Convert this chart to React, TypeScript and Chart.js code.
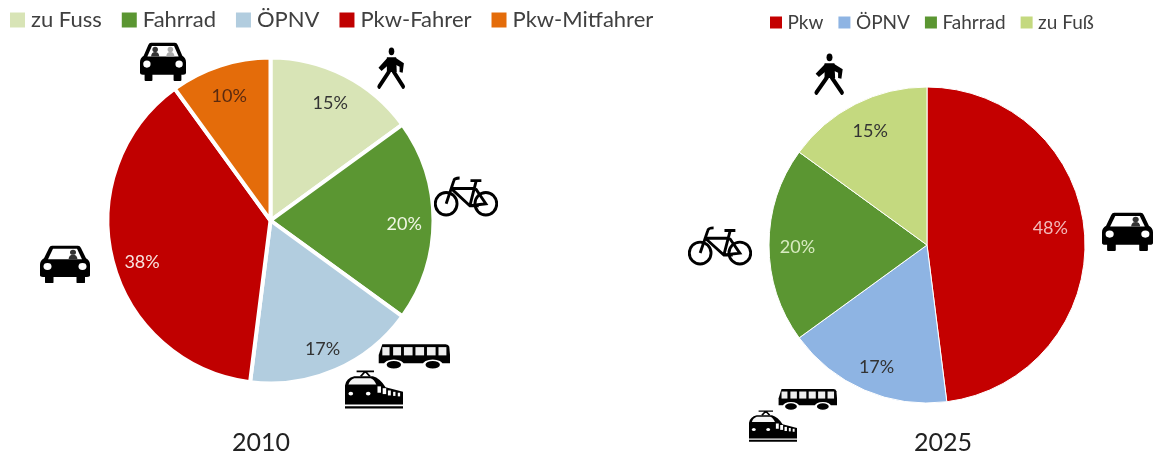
import React, { useEffect, useRef } from "react";
import { Chart, registerables } from "chart.js";

Chart.register(...registerables);

const labels2010 = ["zu Fuss", "Fahrrad", "ÖPNV", "Pkw-Fahrer", "Pkw-Mitfahrer"];
const values2010 = [15, 20, 17, 38, 10];
const colors2010 = ["#D8E4B6", "#5B9632", "#B2CDDF", "#C00000", "#E46C0A"];
const textColors2010 = ["#333333", "#F0F6E4", "#333333", "#F8E4E0", "#5A2A10"];
const labelShift2010 = [[-1, 2], [0, 4], [-1, 6], [1, 8], [0, 3]];

const labels2025 = ["Pkw", "ÖPNV", "Fahrrad", "zu Fuß"];
const values2025 = [48, 17, 20, 15];
const colors2025 = ["#C40000", "#8EB4E3", "#5B9632", "#C4D97F"];
const textColors2025 = ["#F2B8B8", "#333333", "#D8EBC0", "#333333"];
const labelShift2025 = [[-6, -9], [1, 3], [0, 2], [2, 2]];

const FONT = "Lato, Carlito, Calibri, sans-serif";

type Cfg = {
  labels: string[]; values: number[]; colors: string[]; textColors: string[]; shifts: number[][]; year: string;
  left: number; top: number; width: number; height: number;
  cx: number; cy: number; radius: number; border: number;
  legendSize: number; legendPadding: number; boxCore: number; boxStroke: number;
  yearX: number; yearY: number;
};

function PieChart({ c }: { c: Cfg }) {
  const ref = useRef<HTMLCanvasElement>(null);
  useEffect(() => {
    const place = {
      id: "place",
      afterLayout(chart: any) {
        const half = c.radius + 8;
        const x = c.cx - c.left, y = c.cy - c.top;
        Object.assign(chart.chartArea, {
          left: x - half, right: x + half, top: y - half, bottom: y + half,
          width: half * 2, height: half * 2,
        });
      },
      afterDatasetsDraw(chart: any) {
        const ctx = chart.ctx;
        ctx.save();
        ctx.textAlign = "center";
        ctx.textBaseline = "middle";
        ctx.font = `18px ${FONT}`;
        chart.getDatasetMeta(0).data.forEach((arc: any, i: number) => {
          const mid = (arc.startAngle + arc.endAngle) / 2;
          const r = c.radius * 0.82;
          ctx.fillStyle = c.textColors[i];
          ctx.fillText(
            `${c.values[i]}%`,
            arc.x + Math.cos(mid) * r + c.shifts[i][0],
            arc.y + Math.sin(mid) * r + c.shifts[i][1],
          );
        });
        ctx.fillStyle = "#222222";
        ctx.font = `25px ${FONT}`;
        ctx.fillText(c.year, c.yearX - c.left, c.yearY - c.top);
        ctx.restore();
      },
    };
    const chart = new Chart(ref.current!, {
      type: "pie",
      data: {
        labels: c.labels,
        datasets: [{
          data: c.values,
          backgroundColor: c.colors,
          borderColor: "#FFFFFF",
          borderWidth: c.border,
          radius: c.radius,
        }],
      },
      options: {
        animation: false,
        responsive: false,
        plugins: {
          tooltip: { enabled: false },
          legend: {
            position: "top",
            align: "start",
            labels: {
              color: "#404040",
              boxWidth: c.boxCore,
              boxHeight: c.boxCore,
              padding: c.legendPadding,
              font: { family: FONT, size: c.legendSize },
              generateLabels: () =>
                c.labels.map((text, i) => ({
                  text,
                  index: i,
                  fillStyle: c.colors[i],
                  strokeStyle: c.colors[i],
                  lineWidth: c.boxStroke,
                  fontColor: "#404040",
                })),
            },
          },
        },
      },
      plugins: [place],
    } as any);
    return () => chart.destroy();
  }, []);
  return (
    <canvas
      ref={ref}
      width={c.width}
      height={c.height}
      style={{ position: "absolute", left: c.left, top: c.top, width: c.width, height: c.height }}
    />
  );
}

const Car = ({ passenger }: { passenger: boolean }) => (
  <>
    <rect x="10" y="62" width="17" height="28" rx="2" fill="#000" />
    <rect x="73" y="62" width="17" height="28" rx="2" fill="#000" />
    <path d="M24 4 H76 Q80 4 82 9 L92 33 Q100 38 100 48 V72 Q100 76 94 76 H6 Q0 76 0 72 V48 Q0 38 8 33 L18 9 Q20 4 24 4 Z" fill="#000" />
    <path d="M26 11 H74 L84 35 H16 Z" fill="#fff" />
    {passenger && <><circle cx="33" cy="19" r="6" fill="#333" /><path d="M24 35 Q25 25 33 25 Q41 25 42 35 Z" fill="#333" /></>}
    <circle cx={passenger ? 66 : 66} cy="19" r="6" fill={passenger ? "#aaa" : "#333"} />
    <path d="M57 35 Q58 25 66 25 Q74 25 75 35 Z" fill={passenger ? "#aaa" : "#333"} />
    <circle cx="15" cy="52" r="8" fill="#fff" />
    <circle cx="85" cy="52" r="8" fill="#fff" />
  </>
);
const Walker = () => (
  <>
    <circle cx="50" cy="10" r="9" fill="#000" />
    <path d="M35 24 H65 L67 58 H35 Z" fill="#000" />
    <path d="M37 25 L8 48 L18 56 L40 42 Z M63 25 L90 38 L86 60 L76 58 L76 46 L60 40 Z" fill="#000" />
    <path d="M43 56 L10 92 M56 56 L88 92" stroke="#000" strokeWidth="11" strokeLinecap="round" fill="none" />
  </>
);
const Bike = () => (
  <g fill="none" stroke="#000" strokeWidth="4.5">
    <circle cx="19" cy="45" r="17" />
    <circle cx="81" cy="45" r="17" />
    <path d="M19 45 L31 10 Q32 6 40 6 M27 22 H65 M27 22 L56 48 L81 45 L65 22 M56 48 L66 10 M57 10 H74 M56 48 H70" />
  </g>
);
const Bus = () => (
  <>
    <path d="M6 3 H94 Q98 3 99 10 L100 32 V54 H1 V32 Z" fill="#000" />
    <rect x="6" y="11" width="10" height="22" fill="#eee" />
    <rect x="21" y="11" width="11" height="22" fill="#eee" />
    <rect x="36" y="11" width="12" height="22" fill="#eee" />
    <rect x="52" y="11" width="12" height="22" fill="#eee" />
    <rect x="68" y="11" width="12" height="22" fill="#eee" />
    <rect x="84" y="11" width="11" height="22" fill="#eee" />
    <circle cx="22" cy="58" r="12" fill="#000" stroke="#fff" strokeWidth="4" />
    <circle cx="76" cy="58" r="12" fill="#000" stroke="#fff" strokeWidth="4" />
  </>
);
const Train = () => (
  <>
    <path d="M20 3 H50 M35 3 L27 14 M35 3 L43 14" stroke="#000" strokeWidth="3.5" fill="none" />
    <path d="M16 14 H48 Q60 18 70 38 L100 48 V76 H0 V34 Q2 18 16 14 Z" fill="#000" />
    <path d="M16 18 H44 Q50 20 54 32 H6 Q8 22 16 18 Z" fill="#f4f4f4" />
    <circle cx="10" cy="52" r="4" fill="#fff" />
    <circle cx="40" cy="52" r="4" fill="#fff" />
    <rect x="56" y="36" width="6" height="14" fill="#fff" />
    <rect x="65" y="40" width="6" height="13" fill="#fff" />
    <rect x="74" y="45" width="5" height="11" fill="#fff" />
    <rect x="83" y="48" width="4" height="9" fill="#fff" />
    <rect x="91" y="50" width="4" height="8" fill="#fff" />
    <path d="M0 82 H100" stroke="#000" strokeWidth="5" />
  </>
);

const icons: { x: number; y: number; w: number; h: number; vb: string; el: React.ReactNode }[] = [
  { x: 140, y: 41, w: 46, h: 40, vb: "0 0 100 90", el: <Car passenger /> },
  { x: 376, y: 47, w: 31, h: 43, vb: "0 0 100 100", el: <Walker /> },
  { x: 434, y: 174, w: 64, h: 43, vb: "0 0 100 65", el: <Bike /> },
  { x: 378, y: 343, w: 72, h: 27, vb: "0 0 100 72", el: <Bus /> },
  { x: 345, y: 370, w: 58, h: 40, vb: "0 0 100 88", el: <Train /> },
  { x: 40, y: 244, w: 50, h: 39, vb: "0 0 100 90", el: <Car passenger={false} /> },
  { x: 813, y: 53, w: 33, h: 43, vb: "0 0 100 100", el: <Walker /> },
  { x: 1102, y: 211, w: 51, h: 40, vb: "0 0 100 90", el: <Car passenger={false} /> },
  { x: 688, y: 224, w: 64, h: 42, vb: "0 0 100 65", el: <Bike /> },
  { x: 778, y: 388, w: 59, h: 23, vb: "0 0 100 72", el: <Bus /> },
  { x: 749, y: 410, w: 48, h: 33, vb: "0 0 100 88", el: <Train /> },
];

const left: Cfg = {
  labels: labels2010, values: values2010, colors: colors2010, textColors: textColors2010, shifts: labelShift2010, year: "2010",
  left: -10, top: -16, width: 712, height: 473, cx: 270.5, cy: 220.5, radius: 163, border: 4,
  legendSize: 22, legendPadding: 25, boxCore: 5, boxStroke: 10, yearX: 261, yearY: 443,
};
const right: Cfg = {
  labels: labels2025, values: values2025, colors: colors2025, textColors: textColors2025, shifts: labelShift2025, year: "2025",
  left: 755, top: -6, width: 399, height: 463, cx: 927, cy: 245, radius: 158, border: 1,
  legendSize: 19, legendPadding: 19, boxCore: 4, boxStroke: 8, yearX: 943, yearY: 443,
};

export default function App() {
  return (
    <div style={{ position: "absolute", left: 0, top: 0, width: 1154, height: 457, overflow: "hidden", background: "#fff" }}>
      <PieChart c={left} />
      <PieChart c={right} />
      {icons.map((ic, i) => (
        <svg key={i} viewBox={ic.vb} preserveAspectRatio="none"
          style={{ position: "absolute", left: ic.x, top: ic.y, width: ic.w, height: ic.h }}>
          {ic.el}
        </svg>
      ))}
    </div>
  );
}
